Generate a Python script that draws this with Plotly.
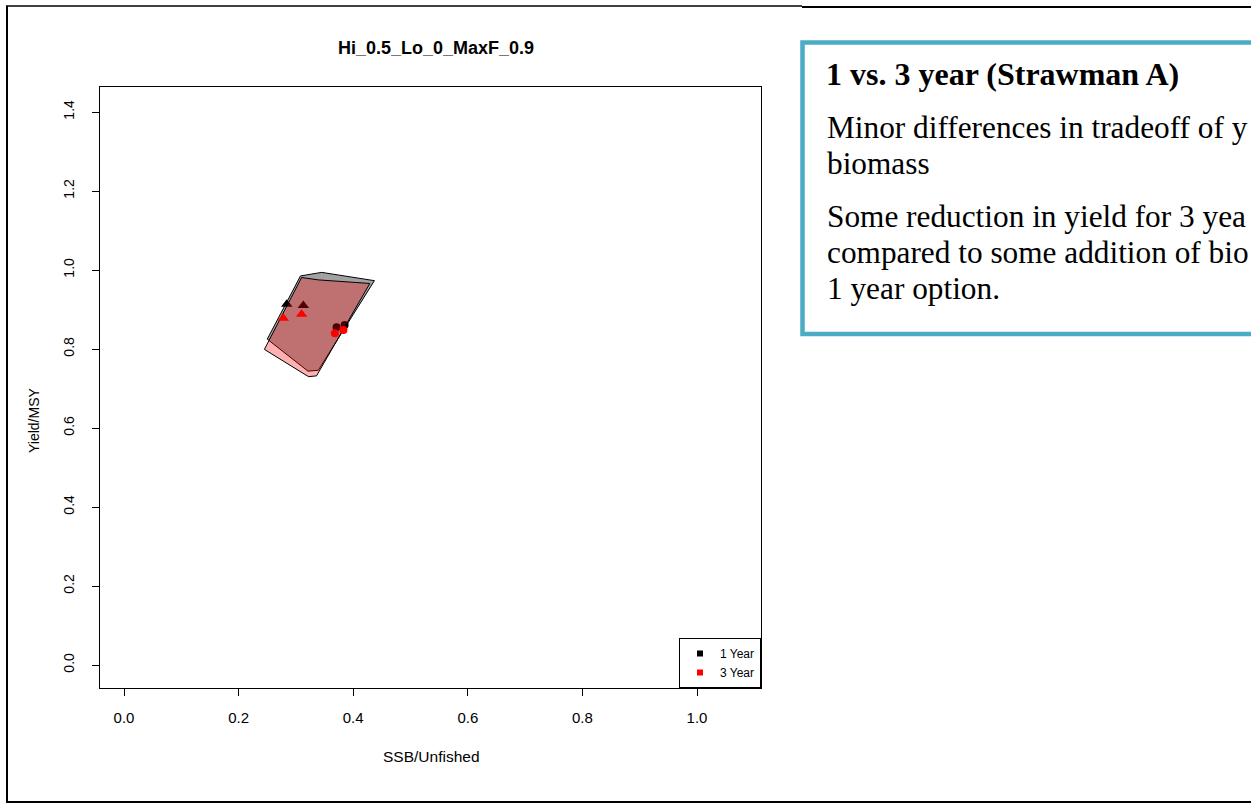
import plotly.graph_objects as go

# ---------------- data ----------------
ssb_hull_1yr = [0.308, 0.345, 0.437, 0.339, 0.321, 0.250, 0.308]
yield_hull_1yr = [0.985, 0.994, 0.973, 0.746, 0.744, 0.825, 0.985]
ssb_hull_3yr = [0.310, 0.339, 0.429, 0.336, 0.322, 0.245, 0.310]
yield_hull_3yr = [0.981, 0.975, 0.966, 0.732, 0.730, 0.799, 0.981]

ssb_tri_1yr = [0.284, 0.313]
yield_tri_1yr = [0.913, 0.910]
ssb_circ_1yr = [0.371, 0.385]
yield_circ_1yr = [0.855, 0.861]

ssb_tri_3yr = [0.278, 0.310]
yield_tri_3yr = [0.878, 0.888]
ssb_circ_3yr = [0.368, 0.383]
yield_circ_3yr = [0.840, 0.848]

x_ticks = [0.0, 0.2, 0.4, 0.6, 0.8, 1.0]
y_ticks = [0.0, 0.2, 0.4, 0.6, 0.8, 1.0, 1.2, 1.4]
legend_names = ["1 Year", "3 Year"]

plot_title = "Hi_0.5_Lo_0_MaxF_0.9"
x_title = "SSB/Unfished"
y_title = "Yield/MSY"
box_heading = "1 vs. 3 year (Strawman A)"
box_lines = [
    "Minor differences in tradeoff of y",
    "biomass",
    "Some reduction in yield for 3 yea",
    "compared to some addition of bio",
    "1 year option.",
]

# ---------------- layout geometry (pixels) ----------------
W, H = 1251, 804
L, R, T, B = 100, 761, 87, 688


def px(xp):
    return (xp - L) / (R - L)


def py(yp):
    return (B - yp) / (B - T)


fig = go.Figure()

# 1 year hull
fig.add_trace(go.Scatter(
    x=ssb_hull_1yr, y=yield_hull_1yr, mode="lines", fill="toself",
    fillcolor="rgba(100,100,100,0.6)", line=dict(color="black", width=1),
    showlegend=False, hoverinfo="skip"))
fig.add_trace(go.Scatter(
    x=ssb_tri_1yr, y=yield_tri_1yr, mode="markers",
    marker=dict(symbol="triangle-up", size=10, color="black"), showlegend=False))
fig.add_trace(go.Scatter(
    x=ssb_circ_1yr, y=yield_circ_1yr, mode="markers",
    marker=dict(symbol="circle", size=8, color="black"), showlegend=False))

# 3 year hull
fig.add_trace(go.Scatter(
    x=ssb_hull_3yr, y=yield_hull_3yr, mode="lines", fill="toself",
    fillcolor="rgba(255,0,0,0.31)", line=dict(color="black", width=1),
    showlegend=False, hoverinfo="skip"))
fig.add_trace(go.Scatter(
    x=ssb_tri_3yr, y=yield_tri_3yr, mode="markers",
    marker=dict(symbol="triangle-up", size=10, color="red"), showlegend=False))
fig.add_trace(go.Scatter(
    x=ssb_circ_3yr, y=yield_circ_3yr, mode="markers",
    marker=dict(symbol="circle", size=8, color="red"), showlegend=False))

# legend entries
for name, col in zip(legend_names, ["black", "red"]):
    fig.add_trace(go.Scatter(
        x=[None], y=[None], mode="markers", name=name,
        marker=dict(symbol="square", size=6, color=col)))

sans = "Liberation Sans, Arial, sans-serif"
xfont = dict(family=sans, size=15, color="black")
yfont = dict(family=sans, size=14, color="black")

fig.update_xaxes(
    range=[-0.0419, 1.1117], tickvals=x_ticks, ticktext=[f"{v:.1f}" for v in x_ticks],
    showgrid=False, zeroline=False, showline=True, mirror=True, linecolor="black",
    linewidth=1, ticks="outside", ticklen=7, tickcolor="black", tickfont=xfont,
    ticklabelstandoff=9)
fig.update_yaxes(
    range=[-0.0582, 1.4633], tickvals=y_ticks, ticktext=[f"{v:.1f}" for v in y_ticks],
    showgrid=False, zeroline=False, showline=True, mirror=True, linecolor="black",
    linewidth=1, ticks="outside", ticklen=7, tickcolor="black", tickfont=yfont,
    tickangle=-90, ticklabelstandoff=12)

annotations = [
    dict(text=f"<b>{plot_title}</b>", x=px(436), y=py(48), xref="paper", yref="paper",
         showarrow=False, xanchor="center", yanchor="middle",
         font=dict(family=sans, size=18, color="black")),
    dict(text=x_title, x=px(431), y=py(757), xref="paper", yref="paper",
         showarrow=False, xanchor="center", yanchor="middle",
         font=dict(family=sans, size=15.5, color="black")),
    dict(text=y_title, x=px(34), y=py(420), xref="paper", yref="paper", textangle=-90,
         showarrow=False, xanchor="center", yanchor="middle", font=yfont),
]

serif = "Liberation Serif, Times New Roman, serif"
annotations.append(dict(
    text=f"<b>{box_heading}</b>", x=px(824), y=py(74), xref="paper", yref="paper",
    showarrow=False, xanchor="left", yanchor="middle",
    font=dict(family=serif, size=32, color="black")))
baselines = [137.3, 173.3, 226.0, 262.0, 298.3]
for txt, bl in zip(box_lines, baselines):
    annotations.append(dict(
        text=txt, x=px(825), y=py(bl - 10), xref="paper", yref="paper",
        showarrow=False, xanchor="left", yanchor="middle",
        font=dict(family=serif, size=31.3, color="black")))

shapes = [
    # teal text box
    dict(type="rect", xref="paper", yref="paper", x0=px(802.5), x1=px(1300),
         y0=py(42.5), y1=py(334), line=dict(color="#4BACC6", width=4.5),
         fillcolor="rgba(0,0,0,0)"),
    # outer frame
    dict(type="line", xref="paper", yref="paper", x0=px(7), x1=px(7), y0=py(6), y1=py(803),
         line=dict(color="black", width=2)),
    dict(type="line", xref="paper", yref="paper", x0=px(6), x1=px(802), y0=py(6), y1=py(6),
         line=dict(color="black", width=1.5)),
    dict(type="line", xref="paper", yref="paper", x0=px(802), x1=px(1260), y0=py(7), y1=py(7),
         line=dict(color="black", width=2)),
    dict(type="line", xref="paper", yref="paper", x0=px(6), x1=px(1260), y0=py(802), y1=py(802),
         line=dict(color="black", width=2)),
]

fig.update_layout(
    width=W, height=H,
    margin=dict(l=L, r=W - R, t=T, b=H - B, autoexpand=False),
    paper_bgcolor="white", plot_bgcolor="white",
    annotations=annotations, shapes=shapes,
    showlegend=True,
    legend=dict(x=1, y=0, xanchor="right", yanchor="bottom", bgcolor="white",
                bordercolor="black", borderwidth=1, tracegroupgap=0, itemwidth=30,
                font=dict(family=sans, size=12, color="black")),
)

fig.write_html("out.html", config={"displayModeBar": False},
               post_script="document.body.style.margin='0px';")
